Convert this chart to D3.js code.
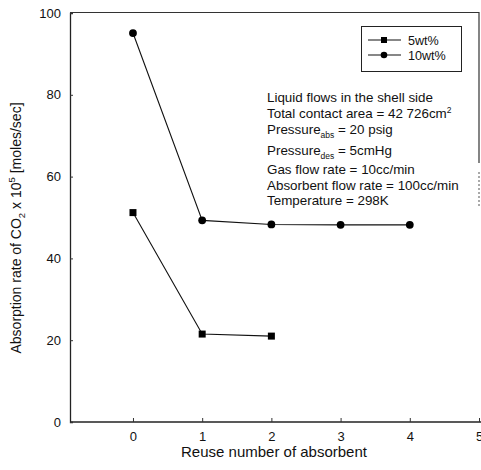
<!DOCTYPE html>
<html>
<head>
<meta charset="utf-8">
<script src="https://cdn.jsdelivr.net/npm/d3@7"></script>
<style>
  body { margin: 0; background: #fff; }
  svg { font-family: "Liberation Sans", Arial, sans-serif; }
</style>
</head>
<body>
<div id="chart"></div>
<script>
const REUSE = [0, 1, 2, 3, 4];
const WT5 = [51.2, 21.5, 21.0];
const WT10 = [95.1, 49.3, 48.3, 48.2, 48.2];
const X_TICKS = [0, 1, 2, 3, 4, 5];
const Y_TICKS = [0, 20, 40, 60, 80, 100];
const NOTES = [
  ["Liquid flows in the shell side"],
  ["Total contact area = 42 726cm", "", "2"],
  ["Pressure", "abs", " = 20 psig"],
  ["Pressure", "des", " = 5cmHg"],
  ["Gas flow rate = 10cc/min"],
  ["Absorbent flow rate = 100cc/min"],
  ["Temperature = 298K"]
];

const W = 481, H = 470;
const svg = d3.select("#chart").append("svg").attr("width", W).attr("height", H);

const x = d3.scaleLinear().domain([-0.91, 5]).range([70, 479]);
const y = d3.scaleLinear().domain([0, 100]).range([422, 13]);

// axes
const xAxis = svg.append("g").attr("transform", `translate(0,${y(0)})`)
  .call(d3.axisBottom(x).tickValues(X_TICKS).tickSize(-4).tickPadding(10).tickFormat(d3.format("d")));
const yAxis = svg.append("g").attr("transform", `translate(${x.range()[0]},0)`)
  .call(d3.axisLeft(y).tickValues(Y_TICKS).tickSize(-3).tickPadding(9));
[xAxis, yAxis].forEach(a => {
  a.select(".domain").attr("stroke", "#222").attr("stroke-width", 1.3);
  a.selectAll(".tick line").attr("stroke", "#333");
  a.selectAll("text").attr("font-size", 13).attr("fill", "#111");
});
xAxis.select(".domain").attr("d", `M70,0H481`);

// frame top + right (faint scan)
svg.append("line").attr("x1", 70).attr("x2", 479).attr("y1", 12.5).attr("y2", 12.5)
  .attr("stroke", "#333").attr("stroke-width", 1);
svg.append("line").attr("x1", 479).attr("x2", 479).attr("y1", 12).attr("y2", 163)
  .attr("stroke", "#333").attr("stroke-width", 1.2);
svg.append("line").attr("x1", 479).attr("x2", 479).attr("y1", 172).attr("y2", 208)
  .attr("stroke", "#555").attr("stroke-width", 1).attr("stroke-dasharray", "2,2");

// axis titles
svg.append("text").attr("x", 274).attr("y", 457).attr("text-anchor", "middle")
  .attr("font-size", 15).attr("fill", "#111").text("Reuse number of absorbent");
const yl = svg.append("text").attr("transform", `translate(21,228) rotate(-90)`)
  .attr("text-anchor", "middle").attr("font-size", 14).attr("fill", "#111");
yl.append("tspan").text("Absorption rate of CO");
yl.append("tspan").attr("font-size", 9.5).attr("dy", 4).text("2");
yl.append("tspan").attr("dy", -4).text(" x 10");
yl.append("tspan").attr("font-size", 9.5).attr("dy", -6).text("5");
yl.append("tspan").attr("dy", 6).text(" [moles/sec]");

// series
const line = d3.line().x(d => x(d[0])).y(d => y(d[1]));
const s5 = WT5.map((v, i) => [REUSE[i], v]);
const s10 = WT10.map((v, i) => [REUSE[i], v]);
[s5, s10].forEach(s => svg.append("path").datum(s).attr("d", line)
  .attr("fill", "none").attr("stroke", "#111").attr("stroke-width", 1.1));
svg.selectAll(".sq").data(s5).enter().append("rect")
  .attr("x", d => x(d[0]) - 3.5).attr("y", d => y(d[1]) - 3.5)
  .attr("width", 7).attr("height", 7).attr("fill", "#000");
svg.selectAll(".ci").data(s10).enter().append("circle")
  .attr("cx", d => x(d[0])).attr("cy", d => y(d[1])).attr("r", 3.9).attr("fill", "#000");

// legend
const lg = svg.append("g");
lg.append("rect").attr("x", 361.5).attr("y", 26.5).attr("width", 100).attr("height", 45)
  .attr("fill", "#fff").attr("stroke", "#222").attr("stroke-width", 1);
[["5wt%", "sq", 40], ["10wt%", "ci", 55]].forEach(([lab, m, ly]) => {
  lg.append("line").attr("x1", 368).attr("x2", 401).attr("y1", ly).attr("y2", ly)
    .attr("stroke", "#111").attr("stroke-width", 1.1);
  if (m === "sq") lg.append("rect").attr("x", 381).attr("y", ly - 3).attr("width", 6).attr("height", 6);
  else lg.append("circle").attr("cx", 384).attr("cy", ly).attr("r", 3.3);
  lg.append("text").attr("x", 408).attr("y", ly + 4.5).attr("font-size", 12.6).attr("fill", "#111").text(lab);
});

// annotation
const noteY = [102, 118, 134, 155, 174, 190, 205];
NOTES.forEach((parts, i) => {
  const t = svg.append("text").attr("x", 267).attr("y", noteY[i]).attr("font-size", 13.4).attr("fill", "#111");
  t.append("tspan").text(parts[0]);
  if (parts.length > 1) {
    if (parts[2] === "2") {
      t.append("tspan").attr("font-size", 8.5).attr("dy", -5).text("2");
    } else {
      t.append("tspan").attr("font-size", 8.5).attr("dy", 4).text(parts[1]);
      t.append("tspan").attr("dy", -4).text(parts[2]);
    }
  }
});
</script>
</body>
</html>
